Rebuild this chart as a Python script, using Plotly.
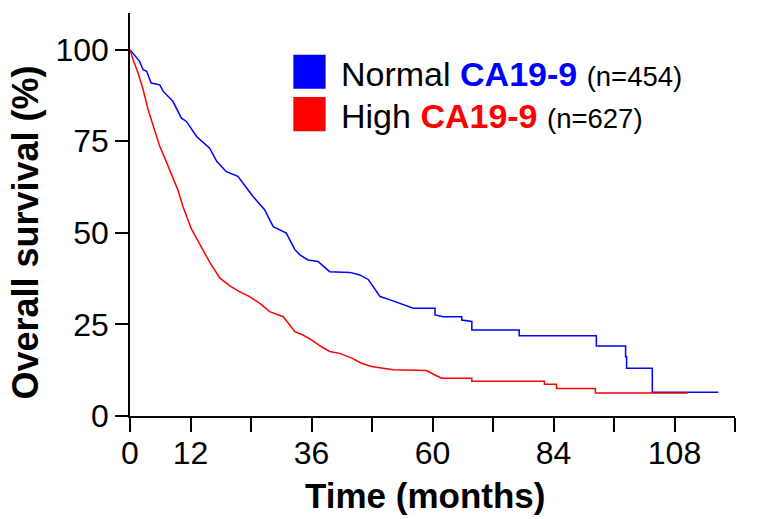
import plotly.graph_objects as go

# Kaplan-Meier curve vertices (months, % surviving)
normal_t = [0, 1.9, 2.6, 3.3, 4.2, 5.9, 6.6, 8.5, 10.2, 11.2, 13.2, 15.8, 17.2, 19.1, 21.4,
            24.4, 26.7, 28.4, 31.0, 32.7, 33.7, 35.3, 37.3, 39.6, 43.6, 45.6, 47.3, 49.6, 51.6,
            54.2, 56.2, 60.5, 60.5, 62.1, 65.8, 65.8, 67.4, 67.8, 67.8, 77.2, 77.2, 92.5, 92.5,
            98.3, 98.3, 98.5, 98.5, 103.6, 103.6, 116.7]
normal_s = [100, 96.8, 94.5, 94.1, 90.9, 90.4, 88.6, 85.9, 81.3, 80.4, 76.3, 73.1, 69.5, 66.7, 65.4,
            59.9, 56.3, 51.7, 49.9, 45.4, 44.0, 42.6, 42.2, 39.4, 39.2, 38.5, 37.2, 32.6, 31.7,
            30.3, 29.4, 29.4, 27.6, 27.1, 27.1, 26.2, 25.8, 25.8, 23.5, 23.5, 21.9, 21.9, 19.1,
            19.1, 16.2, 16.2, 13.0, 13.0, 6.5, 6.5]

high_t = [0, 0.6, 1.6, 2.6, 3.6, 4.6, 5.9, 6.9, 8.2, 9.5, 10.5, 12.2, 14.0, 15.8, 17.8, 19.8,
          21.8, 23.8, 25.7, 27.7, 30.4, 32.7, 34.3, 36.0, 38.0, 39.6, 41.6, 44.0, 45.9, 47.9,
          52.2, 58.8, 60.5, 61.8, 67.8, 67.8, 82.2, 82.2, 84.6, 84.6, 92.3, 92.3, 110.6]
high_s = [100, 97.3, 93.6, 89.1, 83.6, 79.0, 73.6, 70.4, 66.3, 61.7, 57.2, 51.0, 46.5, 42.0, 37.7, 35.5,
          33.9, 32.5, 30.8, 28.5, 27.1, 23.0, 22.1, 20.8, 18.9, 17.6, 17.1, 15.8, 14.4, 13.5,
          12.6, 12.4, 11.2, 10.3, 10.3, 9.5, 9.5, 8.7, 8.7, 7.5, 7.5, 6.3, 6.3]

x_tickvals = [0, 12, 24, 36, 48, 60, 72, 84, 96, 108, 120]
x_ticktext = ["0", "12", "", "36", "", "60", "", "84", "", "108", ""]
y_tickvals = [0, 25, 50, 75, 100]

group_names = ["Normal", "High"]
group_marker = "CA19-9"
group_n = [454, 627]
group_colors = ["#0000FF", "#FF0000"]

FONT = "Liberation Sans, Arial, sans-serif"

fig = go.Figure()
fig.add_trace(go.Scatter(x=normal_t, y=normal_s, mode="lines",
                         line=dict(color=group_colors[0], width=1.5), showlegend=False))
fig.add_trace(go.Scatter(x=high_t, y=high_s, mode="lines",
                         line=dict(color=group_colors[1], width=1.5), showlegend=False))

# custom legend
sq_y = [(98.6, 89.3), (87.1, 77.7)]
for i in range(2):
    fig.add_shape(type="rect", xref="x", yref="y", x0=32.4, x1=38.8,
                  y0=sq_y[i][1], y1=sq_y[i][0], fillcolor=group_colors[i], line_width=0)
    fig.add_annotation(xref="x", yref="y", x=41.4, y=(sq_y[i][0] + sq_y[i][1]) / 2 - 0.5,
                       xanchor="left", yanchor="middle", showarrow=False,
                       text=(f"{group_names[i]} <b><span style='color:{group_colors[i]}'>{group_marker}</span></b>"
                             f" <span style='font-size:27.5px'>(n={group_n[i]})</span>"),
                       font=dict(family=FONT, size=34, color="black"))

fig.add_annotation(xref="x", yref="y", x=125.2, y=53.5, xanchor="right", yanchor="middle",
                   showarrow=False, text="<i>Log-rank test,</i> p&lt;0.0001",
                   font=dict(family=FONT, size=32, color="black"))

# axis titles
fig.add_annotation(xref="paper", yref="paper", x=-0.172, y=0.455, textangle=-90,
                   showarrow=False, xanchor="center", yanchor="middle",
                   text="<b>Overall survival (%)</b>",
                   font=dict(family=FONT, size=36, color="black"))
fig.add_annotation(xref="paper", yref="paper", x=0.4876, y=-0.1985,
                   showarrow=False, xanchor="center", yanchor="middle",
                   text="<b>Time (months)</b>",
                   font=dict(family=FONT, size=35, color="black"))

fig.update_xaxes(range=[0, 120], tickvals=x_tickvals, ticktext=x_ticktext,
                 showline=True, linecolor="black", linewidth=1.5,
                 ticks="outside", ticklen=14, tickwidth=1.5, tickcolor="black",
                 ticklabelstandoff=-6,
                 showgrid=False, zeroline=False,
                 tickfont=dict(family=FONT, size=32, color="black"))
fig.update_yaxes(range=[0, 110], tickvals=y_tickvals,
                 showline=True, linecolor="black", linewidth=1.5,
                 ticks="outside", ticklen=13, tickwidth=1.5, tickcolor="black",
                 showgrid=False, zeroline=False,
                 tickfont=dict(family=FONT, size=32, color="black"))

fig.update_layout(width=764, height=519, margin=dict(l=130, r=29, t=13, b=103),
                  plot_bgcolor="white", paper_bgcolor="white", showlegend=False)

fig.write_html("out.html")
